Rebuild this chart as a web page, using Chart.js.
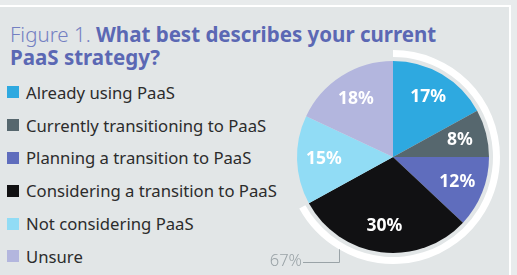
<!DOCTYPE html>
<html>
<head>
<meta charset="utf-8">
<script src="https://cdn.jsdelivr.net/npm/chart.js@4"></script>
<style>
    html, body { margin: 0; padding: 0; }
    body { width: 517px; height: 275px; background: #e8ebec; position: relative; overflow: hidden; font-family: "Noto Sans", Lato, sans-serif; }
    .panel { position: absolute; left: 0; top: 5px; width: 509px; height: 280px; background: #e2e6e7; border-top: 2px solid #fff; border-right: 2px solid #fff; }
    .title { position: absolute; left: 10px; top: 23px; font-size: 20.5px; line-height: 23px; color: #5b68b4; white-space: nowrap; }
    .title .fig { font-weight: 300; color: #7480c2; }
    .title b { font-weight: 700; }
    .legend { position: absolute; left: 7px; top: 76px; }
    .legend-item { height: 32.8px; display: flex; align-items: center; font-size: 16.7px; color: #2c2c2c; white-space: nowrap; }
    .legend-item span.box { width: 12px; height: 12px; margin-right: 7px; display: inline-block; flex: none; }
    #chartWrap { position: absolute; left: 0; top: 0; width: 517px; height: 275px; }
</style>
</head>
<body>
<div class="panel"></div>
<div class="title"><span class="fig">Figure 1.</span> <b>What best describes your current<br>PaaS strategy?</b></div>
<div class="legend" id="legend"></div>
<div id="chartWrap"><canvas id="PieChart" width="517" height="275"></canvas></div>
<script>
const categories = [
    'Already using PaaS',
    'Currently transitioning to PaaS',
    'Planning a transition to PaaS',
    'Considering a transition to PaaS',
    'Not considering PaaS',
    'Unsure'
];
const shares = [17, 8, 12, 30, 15, 18];
const colors = ['#2ea9e0', '#56676e', '#5f6dbd', '#111113', '#91dcf5', '#b3b6de'];
// the white arc covers everyone already using, moving to or thinking about PaaS
const highlightCount = 4;

const highlightTotal = shares.slice(0, highlightCount).reduce((a, b) => a + b, 0);
const restTotal = shares.reduce((a, b) => a + b, 0) - highlightTotal;

const legend = document.getElementById('legend');
categories.forEach((name, i) => {
    const row = document.createElement('div');
    row.className = 'legend-item';
    row.innerHTML = '<span class="box" style="background:' + colors[i] + '"></span>' + name;
    legend.appendChild(row);
});

const sliceLabels = {
    id: 'sliceLabels',
    afterDatasetsDraw(chart) {
        const ctx = chart.ctx;
        const pieMeta = chart.getDatasetMeta(2);
        ctx.save();
        ctx.fillStyle = '#fff';
        ctx.font = 'bold 17.5px "Noto Sans", Lato, sans-serif';
        ctx.textAlign = 'center';
        ctx.textBaseline = 'middle';
        pieMeta.data.forEach((arc, i) => {
            const mid = (arc.startAngle + arc.endAngle) / 2;
            const r = arc.outerRadius * 0.72;
            ctx.fillText(shares[i] + '%', arc.x + Math.cos(mid) * r, arc.y + Math.sin(mid) * r);
        });

        // leader line from the white ring down to the total
        const ring = chart.getDatasetMeta(0).data[0];
        const ang = Math.PI / 2 + 0.53;
        const sx = ring.x + Math.cos(ang) * ring.outerRadius;
        const sy = ring.y + Math.sin(ang) * ring.outerRadius;
        ctx.strokeStyle = '#9aa3a7';
        ctx.lineWidth = 1;
        ctx.beginPath();
        ctx.moveTo(Math.round(sx) + 0.5, sy);
        ctx.lineTo(Math.round(sx) + 0.5, 262.5);
        ctx.lineTo(303, 262.5);
        ctx.stroke();
        ctx.fillStyle = '#9aa3a7';
        ctx.font = '300 16.5px "Noto Sans", Lato, sans-serif';
        ctx.textAlign = 'right';
        ctx.fillText(highlightTotal + '%', 302, 261);
        ctx.restore();
    }
};

const ctx = document.getElementById('PieChart');
new Chart(ctx, {
    type: 'doughnut',
    data: {
        labels: categories,
        datasets: [{
            data: [highlightTotal, restTotal],
            backgroundColor: ['#ffffff', 'rgba(0,0,0,0)'],
            borderWidth: 0,
            weight: 7
        }, {
            data: [100],
            backgroundColor: ['rgba(0,0,0,0)'],
            borderWidth: 0,
            weight: 4
        }, {
            data: shares,
            backgroundColor: colors,
            borderWidth: 0,
            weight: 96
        }]
    },
    options: {
        responsive: false,
        animation: false,
        cutout: 0,
        layout: {
            padding: { left: 286, right: 17, top: 50, bottom: 11 }
        },
        plugins: {
            legend: { display: false },
            tooltip: { enabled: false }
        }
    },
    plugins: [sliceLabels]
});
</script>
</body>
</html>
